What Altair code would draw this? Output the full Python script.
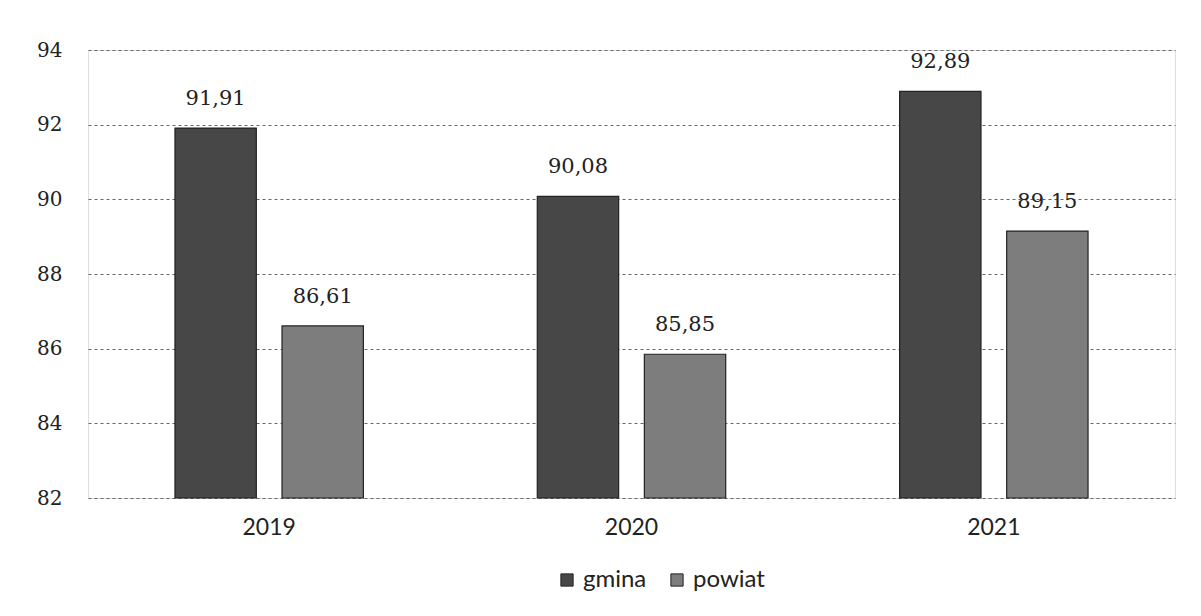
import altair as alt
import pandas as pd

years = ["2019", "2020", "2021"]
gmina = [91.91, 90.08, 92.89]
powiat = [86.61, 85.85, 89.15]
series = ["gmina", "powiat"]
colors = ["#474747", "#7d7d7d"]
y_ticks = [82, 84, 86, 88, 90, 92, 94]

rows = []
for i, yr in enumerate(years):
    rows.append({"rok": yr, "seria": "gmina", "wartosc": gmina[i]})
    rows.append({"rok": yr, "seria": "powiat", "wartosc": powiat[i]})
df = pd.DataFrame(rows)

SANS = "Lato"
SERIF = "DejaVu Serif"

x = alt.X("rok:N", title=None, sort=years,
          scale=alt.Scale(paddingInner=0.48, paddingOuter=0.24),
          axis=alt.Axis(labelAngle=0, labelFontSize=23, labelColor="#222",
                        labelFont=SANS, ticks=False, domain=False, labelPadding=18))
xo = alt.XOffset("seria:N", sort=series,
                 scale=alt.Scale(paddingInner=0.24, paddingOuter=0))
y = alt.Y("wartosc:Q", title=None,
          scale=alt.Scale(domain=[82, 94], zero=False, nice=False),
          axis=alt.Axis(values=y_ticks, labelFontSize=20, labelColor="#222",
                        labelFont=SERIF, ticks=False, domain=False, labelPadding=26,
                        grid=True, gridColor="#666", gridDash=[3, 3],
                        gridWidth=1))

base = alt.Chart(df)

bars = base.mark_bar(stroke="#222", strokeWidth=1.2).encode(
    x=x, xOffset=xo, y=y, y2=alt.datum(82),
    color=alt.Color("seria:N", sort=series,
                    scale=alt.Scale(domain=series, range=colors),
                    legend=alt.Legend(title=None, orient="none", direction="horizontal",
                                      legendX=467, legendY=518, symbolType="square",
                                      symbolSize=150, symbolStrokeColor="#222",
                                      symbolStrokeWidth=1, labelFontSize=24,
                                      labelFont=SANS, labelColor="#222",
                                      columnPadding=18, symbolOpacity=1)),
)

labels = base.transform_calculate(
    lab="replace(format(datum.wartosc, '.2f'), '.', ',')"
).mark_text(dy=-19, fontSize=21, font=SERIF, color="#222", baseline="bottom").encode(
    x=x, xOffset=xo, y=y, text="lab:N"
)

chart = (bars + labels).properties(
    width=1087, height=448,
    autosize=alt.AutoSizeParams(type="none"),
    padding={"left": 80, "top": 42, "right": 10, "bottom": 110},
).configure_view(stroke=None).configure(background="white")

chart.save("out.html", embed_options={"renderer": "svg", "actions": False})
